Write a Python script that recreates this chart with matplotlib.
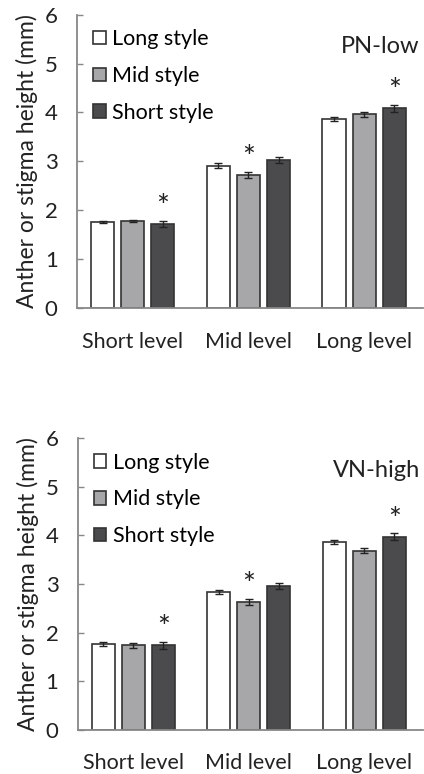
import matplotlib
matplotlib.use("Agg")
import matplotlib.pyplot as plt
from matplotlib.patches import Patch
import numpy as np

plt.rcParams['font.family'] = ['Lato', 'DejaVu Sans']

levels = ["Short level", "Mid level", "Long level"]
styles = ["Long style", "Mid style", "Short style"]
colors = ["#ffffff", "#a7a7a9", "#4b4b4d"]

# PN-low panel: rows = style, cols = level
pn_mean = [[1.76, 2.91, 3.87],
           [1.78, 2.72, 3.96],
           [1.72, 3.03, 4.09]]
pn_err = [[0.03, 0.05, 0.04],
          [0.03, 0.06, 0.06],
          [0.07, 0.06, 0.07]]
pn_star = [(2, 0), (1, 1), (2, 2)]

# VN-high panel
vn_mean = [[1.77, 2.84, 3.87],
           [1.74, 2.63, 3.68],
           [1.74, 2.96, 3.97]]
vn_err = [[0.04, 0.04, 0.04],
          [0.05, 0.06, 0.05],
          [0.07, 0.07, 0.07]]
vn_star = [(2, 0), (1, 1), (2, 2)]

panels = [("PN-low", pn_mean, pn_err, pn_star, [0.182, 0.602, 0.816, 0.379]),
          ("VN-high", vn_mean, vn_err, vn_star, [0.184, 0.057, 0.814, 0.377])]

fig = plt.figure(figsize=(4.24, 7.74), dpi=100)
x = np.arange(len(levels))
width = 0.2
pitch = 0.26
fs = 15.5

for name, mean, err, stars, pos in panels:
    ax = fig.add_axes(pos)
    for i in range(3):
        ax.bar(x + (i - 1) * pitch, mean[i], width, yerr=err[i], color=colors[i],
               edgecolor="#333333", linewidth=1.2, capsize=3,
               error_kw={'elinewidth': 1, 'ecolor': '#222222', 'capthick': 1})
    for s, l in stars:
        ax.text(x[l] + (s - 1) * pitch, mean[s][l] + err[s][l] + 0.1, "*",
                ha="center", va="baseline", fontsize=22, color="#222222")
    ax.set_xlim(-0.48, 2.51)
    ax.set_ylim(0, 6)
    ax.set_yticks(range(7))
    ax.set_xticks(x)
    ax.set_xticklabels(levels)
    ax.tick_params(axis='y', direction='in', length=4, width=1, color="#888888",
                   labelsize=fs + 0.5, pad=14, labelcolor="#222222")
    ax.tick_params(axis='x', length=0, labelsize=fs, pad=17, labelcolor="#222222")
    for sp in ["top", "right"]:
        ax.spines[sp].set_visible(False)
    for sp in ["left", "bottom"]:
        ax.spines[sp].set_color("#888888")
        ax.spines[sp].set_linewidth(1.3)
    ax.set_ylabel("Anther or stigma height (mm)", fontsize=16.5, color="#222222", labelpad=5)
    ax.text(0.99, 0.89, name, transform=ax.transAxes, ha="right", va="center",
            fontsize=17, color="#222222")
    handles = [Patch(facecolor=c, edgecolor="#333333", linewidth=1.2) for c in colors]
    ax.legend(handles, styles, loc="upper left", bbox_to_anchor=(0.02, 0.98),
              frameon=False, fontsize=fs, handlelength=0.6, handleheight=0.6,
              handletextpad=0.3, labelspacing=0.78, borderaxespad=0)

fig.savefig("out.png", dpi=100)
